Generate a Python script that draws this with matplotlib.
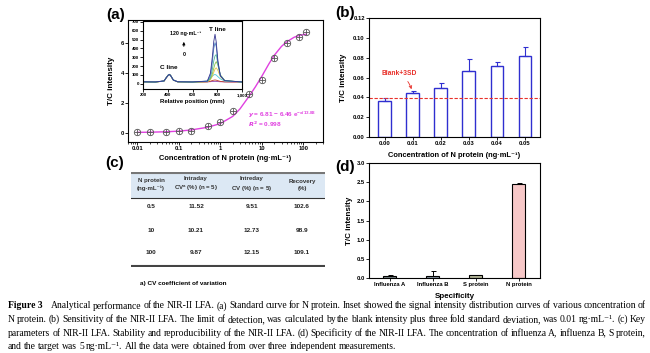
import matplotlib
matplotlib.use('Agg')
import matplotlib.pyplot as plt
from matplotlib.patches import Rectangle
import numpy as np

# ---------------- DATA ----------------
# (a) standard curve
conc = [0.01, 0.02, 0.05, 0.1, 0.2, 0.5, 1, 2, 5, 10, 20, 40, 80, 120]
tc = [0.04, 0.04, 0.06, 0.10, 0.15, 0.44, 0.75, 1.48, 2.58, 3.49, 4.97, 5.94, 6.36, 6.71]
fit_x = [0.01, 0.02, 0.05, 0.1, 0.2, 0.5, 1, 2, 3, 5, 7, 10, 15, 20, 30, 40, 60, 80, 120]
fit_y = [0.04, 0.05, 0.08, 0.12, 0.20, 0.38, 0.62, 1.10, 1.60, 2.45, 3.05, 3.75, 4.60,
         5.15, 5.75, 6.05, 6.35, 6.48, 6.56]

# (a) inset: signal intensity vs relative position
pos = [200, 300, 370, 390, 405, 415, 425, 445, 480, 600, 720, 745, 760, 772, 782, 792,
       805, 825, 860, 1000]
spec_navy = [22, 20, 32, 72, 98, 104, 88, 42, 22, 20, 30, 120, 300, 480, 560, 470, 260, 90, 35, 20]
spec_blue = [20, 19, 30, 70, 96, 102, 86, 40, 21, 19, 28, 95, 240, 400, 465, 420, 250, 90, 33, 19]
spec_teal = [21, 19, 31, 74, 100, 106, 90, 43, 22, 19, 25, 70, 160, 260, 315, 330, 220, 95, 35, 19]
spec_green = [20, 18, 30, 72, 99, 105, 88, 41, 21, 18, 24, 55, 110, 175, 225, 250, 210, 100, 38, 18]
spec_yellow = [19, 18, 29, 70, 97, 103, 87, 40, 20, 18, 23, 45, 85, 130, 165, 180, 150, 80, 32, 18]
spec_cyan = [21, 19, 31, 73, 100, 106, 89, 42, 22, 19, 30, 60, 85, 100, 104, 98, 80, 55, 30, 19]
spec_red = [20, 18, 30, 71, 98, 104, 87, 41, 21, 18, 20, 28, 36, 40, 42, 40, 34, 26, 20, 18]
spec_purple = [22, 20, 32, 74, 101, 107, 90, 43, 22, 20, 21, 23, 25, 26, 27, 26, 24, 22, 21, 20]

# (b) sensitivity
sens_labels = ['0.00', '0.01', '0.02', '0.03', '0.04', '0.05']
sens_vals = [0.0366, 0.0442, 0.0498, 0.0668, 0.0719, 0.0815]
sens_err = [0.0031, 0.0022, 0.0044, 0.0118, 0.0040, 0.0090]
blank_3sd = 0.039

# (c) table
tab_header = ['N protein\n(ng·mL⁻¹)', 'Intraday\nCV$^{a}$ (%) ($n$ = 5)',
              'Intreday\nCV (%) ($n$ = 5)', 'Recovery\n(%)']
tab_rows = [['0.5', '11.52', '9.51', '102.6'],
            ['10', '10.21', '12.73', '98.9'],
            ['100', '9.87', '12.15', '109.1']]

# (d) specificity
spec_labels = ['Influenza A', 'Influenza B', 'S protein', 'N protein']
spec_vals = [0.04, 0.05, 0.07, 2.46]
spec_err = [0.05, 0.12, 0.02, 0.02]

caption = [
    "Analytical performance of the NIR-II LFA. (a) Standard curve for N protein. Inset showed the signal intensity distribution curves of various concentration of",
    "N protein. (b) Sensitivity of the NIR-II LFA. The limit of detection, was calculated by the blank intensity plus three fold standard deviation, was 0.01 ng·mL⁻¹. (c) Key",
    "parameters of NIR-II LFA. Stability and reproducibility of the NIR-II LFA. (d) Specificity of the NIR-II LFA. The concentration of influenza A, influenza B, S protein,",
    "and the target was 5 ng·mL⁻¹. All the data were obtained from over three independent measurements.",
]

# ---------------- STYLE ----------------
SANS = ['Liberation Sans', 'DejaVu Sans']
SERIF = ['Liberation Serif', 'DejaVu Serif']
plt.rcParams['font.family'] = SANS
plt.rcParams['font.weight'] = 'bold'
plt.rcParams['mathtext.default'] = 'regular'

W, H = 650, 353
fig = plt.figure(figsize=(6.5, 3.53), dpi=100)


def box(x0, y0, x1, y1):
    return [x0 / W, 1 - y1 / H, (x1 - x0) / W, (y1 - y0) / H]


def ftxt(x, y, s, **kw):
    return fig.text(x / W, 1 - y / H, s, **kw)


def style(ax, ls=4.2):
    for sp in ax.spines.values():
        sp.set_linewidth(0.8)
    ax.tick_params(direction='out', length=2, width=0.6, labelsize=ls, pad=1)
    ax.tick_params(which='minor', length=1.2, width=0.5)


# ---------------- (a) ----------------
ax = fig.add_axes(box(128, 20, 323, 142))
ax.set_xscale('log')
ax.plot(fit_x, fit_y, color='#e040e0', lw=1.0)
ax.plot(conc, tc, 'o', mfc='none', mec='#555555', ms=4.6, mew=0.6)
ax.plot(conc, tc, '+', color='#555555', ms=4.6, mew=0.6)
ax.set_xlim(0.006, 300)
ax.set_ylim(-0.6, 7.5)
ax.set_xticks([0.01, 0.1, 1, 10, 100])
ax.set_xticklabels(['0.01', '0.1', '1', '10', '100'])
ax.set_yticks([0, 2, 4, 6])
style(ax)
ax.set_ylabel('T/C intensity', fontsize=5.8, fontweight='bold')
ax.yaxis.set_label_coords(-0.067, 0.5)
ax.set_xlabel('Concentration of N protein (ng·mL⁻¹)', fontsize=5.4, fontweight='bold')
ax.xaxis.set_label_coords(0.5, -0.107)
ftxt(248, 115, r'$\it{y}$ = 6.81 − 6.46 e$^{-x/13.88}$', fontsize=4.6, color='#e040e0', va='center')
ftxt(248, 124, r'$\it{R}^2$ = 0.998', fontsize=4.6, color='#e040e0', va='center')
ftxt(116, 15, '(a)', fontsize=11, fontweight='bold', ha='center', va='center')

ins = fig.add_axes(box(143, 21, 242, 89))
spectra = [spec_purple, spec_red, spec_cyan, spec_yellow, spec_green, spec_teal, spec_blue, spec_navy]
colors = ['#8e44ad', '#c0392b', '#48c9d8', '#e8c547', '#8bc34a', '#4fb39a', '#4a7fc1', '#34348f']
for ys, c in zip(spectra, colors):
    ins.plot(pos, ys, color=c, lw=0.6)
ins.set_xlim(200, 1000)
ins.set_ylim(-60, 710)
ins.set_xticks([200, 400, 600, 800, 1000])
ins.set_xticklabels(['200', '400', '600', '800', '1,000'])
ins.set_yticks(range(0, 701, 100))
style(ins, ls=3.2)
ins.set_xlabel('Relative position (mm)', fontsize=4.3, fontweight='bold', labelpad=1)
ins.text(800, 610, 'T line', fontsize=4.6, ha='center', va='center')
ins.text(410, 185, 'C line', fontsize=4.6, ha='center', va='center')
ins.text(540, 565, '120 ng·mL⁻¹', fontsize=3.8, ha='center', va='center')
ins.text(530, 330, '0', fontsize=3.8, ha='center', va='center')
ins.annotate('', xy=(530, 505), xytext=(530, 390),
             arrowprops=dict(arrowstyle='-|>', lw=0.6, color='black', mutation_scale=4))

# ---------------- (b) ----------------
bx = fig.add_axes(box(369, 18, 540, 137))
xb = np.arange(len(sens_labels))
bx.bar(xb, sens_vals, width=0.45, color='white', edgecolor='#2f2fd0', lw=1.0,
       yerr=[np.zeros(len(sens_err)), sens_err],
       error_kw=dict(ecolor='#2f2fd0', elinewidth=0.8, capsize=1.8, capthick=0.8))
bx.axhline(blank_3sd, color='#e8302a', ls=(0, (3, 1.5)), lw=0.8)
bx.annotate('Blank+3SD', xy=(0.97, 0.0468), xytext=(0.5, 0.0645), fontsize=4.8,
            color='#e8302a', ha='center', va='center',
            arrowprops=dict(arrowstyle='->', color='#e8302a', lw=0.6,
                            connectionstyle='arc3,rad=-0.2', shrinkA=2, shrinkB=1))
bx.set_xlim(-0.56, 5.54)
bx.set_ylim(0, 0.12)
bx.set_xticks(xb)
bx.set_xticklabels(sens_labels)
bx.set_yticks(np.arange(0, 0.121, 0.02))
bx.set_yticklabels([f'{v:.2f}' for v in np.arange(0, 0.121, 0.02)])
style(bx)
bx.set_ylabel('T/C intensity', fontsize=5.8, fontweight='bold')
bx.yaxis.set_label_coords(-0.13, 0.5)
bx.set_xlabel('Concentration of N protein (ng·mL⁻¹)', fontsize=5.4, fontweight='bold')
bx.xaxis.set_label_coords(0.5, -0.126)
ftxt(345, 13, '(b)', fontsize=11, fontweight='bold', ha='center', va='center')

# ---------------- (c) ----------------
tx = fig.add_axes(box(131, 172, 325, 267))
tx.set_xlim(131, 325)
tx.set_ylim(267, 172)
tx.axis('off')
tx.add_patch(Rectangle((131, 172), 194, 26, color='#dce8f4', lw=0))
tx.plot([131, 325], [172.5, 172.5], color='#777777', lw=1.5)
tx.plot([131, 325], [198, 198], color='#333333', lw=0.8)
tx.plot([131, 325], [265.5, 265.5], color='#444444', lw=1.5)
col_x = [151, 196, 252, 302]
for cx, head in zip(col_x, tab_header):
    tx.text(cx, 184.5, head, fontsize=4.4, ha='center', va='center', color='#333333',
            linespacing=1.5)
for ry, row in zip([207, 230, 253], tab_rows):
    for cx, cell in zip(col_x, row):
        tx.text(cx, ry, cell, fontsize=4.6, ha='center', va='center', color='#222222')
ftxt(115, 163, '(c)', fontsize=11, fontweight='bold', ha='center', va='center')
ftxt(140, 284, 'a) CV coefficient of variation', fontsize=4.6, va='center')

# ---------------- (d) ----------------
dx = fig.add_axes(box(369, 163, 540, 278))
xd = np.arange(len(spec_labels))
dx.bar(xd, spec_vals, width=0.3, color=['#7f8c8d', '#8c9aa8', '#b5b89a', '#f7c8c8'],
       edgecolor='black', lw=0.8, yerr=[np.zeros(len(spec_err)), spec_err],
       error_kw=dict(ecolor='black', elinewidth=0.7, capsize=1.8, capthick=0.7))
dx.set_xlim(-0.48, 3.5)
dx.set_ylim(0, 3.0)
dx.set_xticks(xd)
dx.set_xticklabels(spec_labels)
dx.set_yticks(np.arange(0, 3.01, 0.5))
dx.set_yticklabels([f'{v:.1f}' for v in np.arange(0, 3.01, 0.5)])
style(dx)
dx.set_ylabel('T/C intensity', fontsize=5.8, fontweight='bold')
dx.yaxis.set_label_coords(-0.095, 0.5)
dx.set_xlabel('Specificity', fontsize=5.8, fontweight='bold')
dx.xaxis.set_label_coords(0.5, -0.13)
ftxt(345, 167, '(d)', fontsize=11, fontweight='bold', ha='center', va='center')

# ---------------- caption (justified) ----------------
renderer = fig.canvas.get_renderer()


def justify(tokens, y, x0=8, x1=646, size=6.95, last=False):
    texts = [ftxt(0, y, s, fontsize=size, fontweight=wt, family=SERIF, va='center')
             for s, wt, _ in tokens]
    widths = [t.get_window_extent(renderer).width + extra
              for t, (_, _, extra) in zip(texts, tokens)]
    gap = size * 0.22 * 100 / 72 if last else (x1 - x0 - sum(widths)) / (len(texts) - 1)
    x = x0
    for t, w in zip(texts, widths):
        t.set_x(x / W)
        x += w + gap


cap_y = [306, 319.5, 333, 346.5]
for i, (line, y) in enumerate(zip(caption, cap_y)):
    toks = [(w, 'normal', 0) for w in line.split()]
    if i == 0:
        toks = [('Figure 3', 'bold', 6)] + toks
    justify(toks, y, last=(i == len(caption) - 1))

fig.savefig('out.png', dpi=100)
